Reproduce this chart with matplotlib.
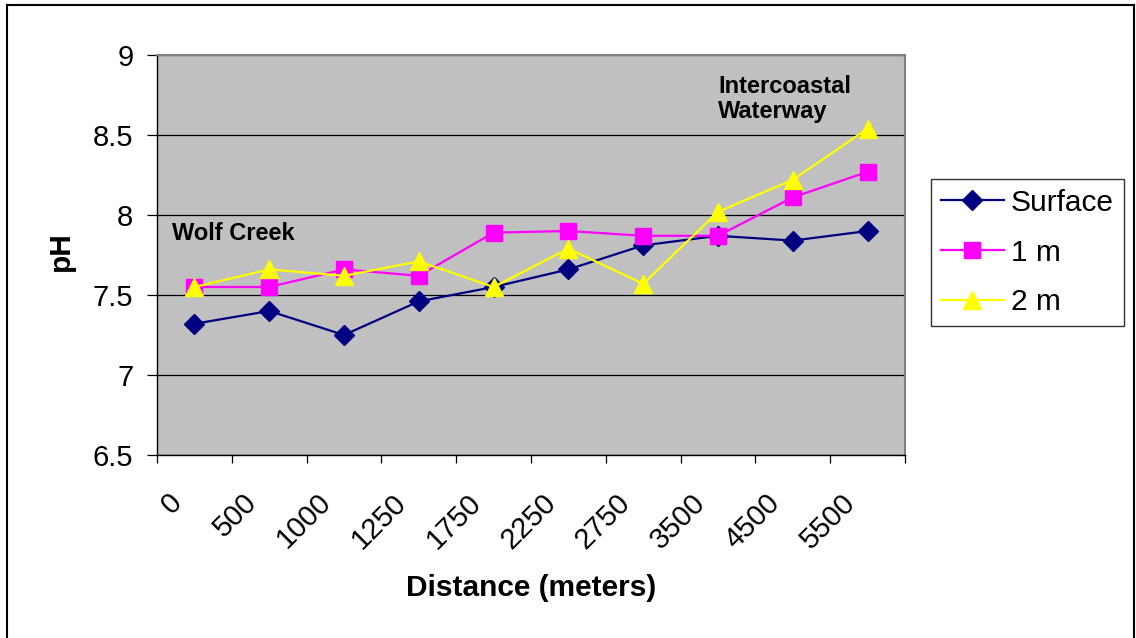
import matplotlib
matplotlib.use("Agg")
import matplotlib.pyplot as plt
from matplotlib.lines import Line2D
from matplotlib.transforms import ScaledTranslation

plt.rcParams['font.family'] = ['Liberation Sans', 'DejaVu Sans']

categories = ["0", "500", "1000", "1250", "1750", "2250", "2750", "3500", "4500", "5500"]
surface = [7.32, 7.40, 7.25, 7.46, 7.55, 7.66, 7.81, 7.87, 7.84, 7.90]
one_m = [7.55, 7.55, 7.66, 7.62, 7.89, 7.90, 7.87, 7.87, 8.11, 8.27]
two_m = [7.55, 7.66, 7.62, 7.71, 7.55, 7.79, 7.57, 8.02, 8.22, 8.54]
y_ticks = [6.5, 7, 7.5, 8, 8.5, 9]
y_tick_labels = ["6.5", "7", "7.5", "8", "8.5", "9"]

W, H = 1136, 638
fig = plt.figure(figsize=(W / 100, H / 100), dpi=100)
fig.patch.set_facecolor('white')
ax = fig.add_axes([157 / W, 1 - 455 / H, 748 / W, 400 / H])
ax.set_facecolor('#C0C0C0')

x = list(range(len(categories)))
ax.plot(x, surface, color='#000080', lw=1.6, marker='D', ms=10,
        mfc='#000080', mec='#000080', label='Surface', zorder=3)
ax.plot(x, one_m, color='#FF00FF', lw=1.6, marker='s', ms=11,
        mfc='#FF00FF', mec='#FF00FF', label='1 m', zorder=4)
ax.plot(x, two_m, color='#FFFF00', lw=1.6, marker='^', ms=12.5,
        mfc='#FFFF00', mec='#FFFF00', label='2 m', zorder=5)

ax.set_xlim(-0.5, len(categories) - 0.5)
ax.set_ylim(6.5, 9)
ax.set_yticks(y_ticks)
ax.set_yticklabels(y_tick_labels)
ax.yaxis.grid(True, color='black', lw=0.9)
ax.set_axisbelow(True)

ax.set_xticks(x)
ax.set_xticklabels(categories, rotation=45, ha='right', va='top',
                   rotation_mode='anchor')
ax.set_xticks([i - 0.5 for i in range(len(categories) + 1)], minor=True)
ax.tick_params(axis='x', which='major', length=0, pad=24, labelsize=21)
ax.tick_params(axis='x', which='minor', length=6, width=0.9, color='black', direction='out')
ax.tick_params(axis='y', length=7, width=0.9, pad=10, labelsize=21, direction='out')
offset = ScaledTranslation(-0.27, 0, fig.dpi_scale_trans)
for lab in ax.get_xticklabels():
    lab.set_transform(lab.get_transform() + offset)

for s in ['left', 'bottom']:
    ax.spines[s].set_color('black')
    ax.spines[s].set_linewidth(1.0)
for s in ['top', 'right']:
    ax.spines[s].set_color('#808080')
    ax.spines[s].set_linewidth(1.5)

ax.set_xlabel('Distance (meters)', fontsize=21.5, fontweight='bold', va='center')
ax.xaxis.set_label_coords(0.5, (455 - 588) / 400)
ax.set_ylabel('pH', fontsize=21.5, fontweight='bold', va='center', ha='center')
ax.yaxis.set_label_coords((61 - 157) / 748, 0.51)

ax.text((172 - 157) / 748, (455 - 233) / 400, 'Wolf Creek', transform=ax.transAxes,
        fontsize=17, fontweight='bold', ha='left', va='center')
ax.text((718 - 157) / 748, (455 - 99) / 400, 'Intercoastal\nWaterway', transform=ax.transAxes,
        fontsize=17, fontweight='bold', ha='left', va='center', linespacing=1.15)

leg = fig.legend(loc='upper left', bbox_to_anchor=(931 / W, 1 - 179 / H),
                 frameon=True, fancybox=False, shadow=False, fontsize=21.5,
                 handlelength=2.1, handletextpad=0.25, labelspacing=0.73,
                 borderpad=0.33, borderaxespad=0)
leg.get_frame().set_edgecolor('black')
leg.get_frame().set_linewidth(1.0)

# figure border
lw = 1.5
fig.add_artist(Line2D([7 / W, 7 / W], [0, 1 - 5 / H], color='black', lw=lw, transform=fig.transFigure))
fig.add_artist(Line2D([7 / W, 1134 / W], [1 - 5 / H, 1 - 5 / H], color='black', lw=lw, transform=fig.transFigure))
fig.add_artist(Line2D([1134 / W, 1134 / W], [0, 1 - 5 / H], color='black', lw=lw, transform=fig.transFigure))

fig.savefig('out.png', dpi=100)
